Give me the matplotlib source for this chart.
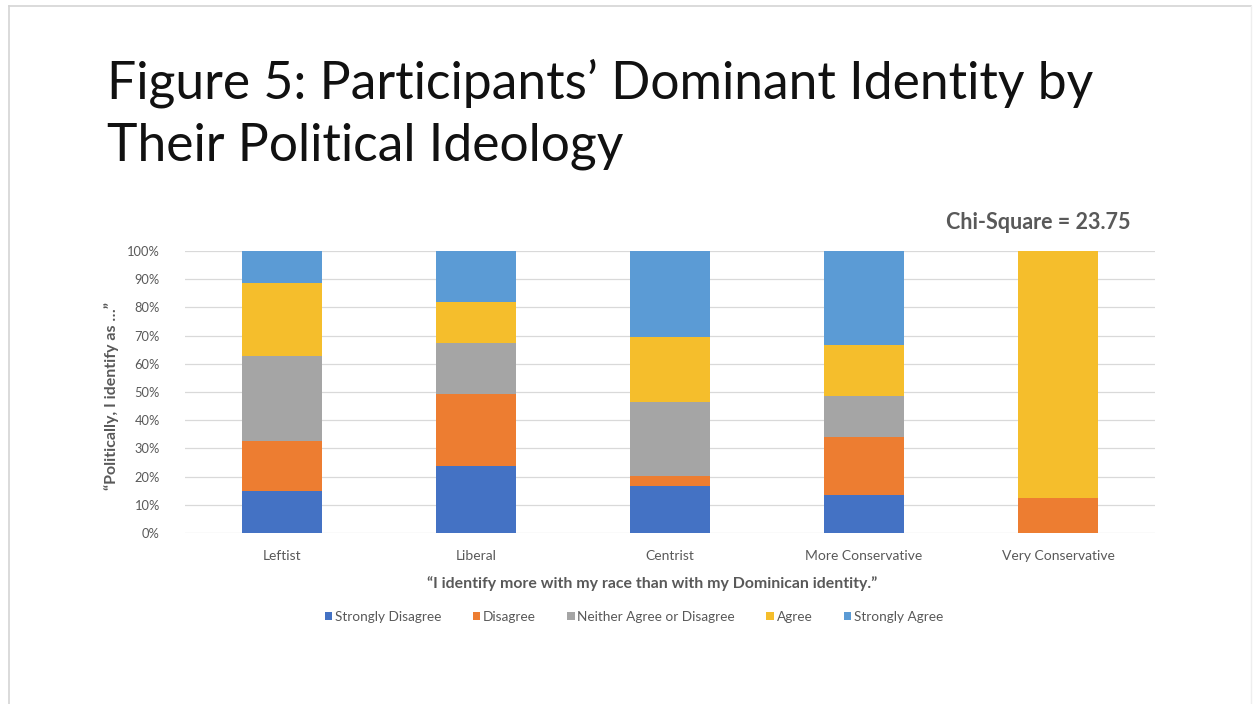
import matplotlib
matplotlib.use("Agg")
import matplotlib.pyplot as plt
from matplotlib.lines import Line2D
from matplotlib.patches import Patch
import numpy as np

# Data: share of responses (%) per political ideology group
categories = ["Leftist", "Liberal", "Centrist", "More Conservative", "Very Conservative"]
responses = ["Strongly Disagree", "Disagree", "Neither Agree or Disagree", "Agree", "Strongly Agree"]
strongly_disagree = [14.8, 23.8, 16.5, 13.5, 0.0]
disagree = [17.9, 25.6, 3.8, 20.7, 12.5]
neither = [29.9, 17.9, 26.3, 14.4, 0.0]
agree = [25.9, 14.5, 22.8, 18.1, 87.5]
strongly_agree = [11.5, 18.2, 30.6, 33.3, 0.0]
y_ticks = [0, 10, 20, 30, 40, 50, 60, 70, 80, 90, 100]
y_tick_labels = [f"{t}%" for t in y_ticks]

colors = ["#4472C4", "#ED7D31", "#A5A5A5", "#F5BE2C", "#5B9BD5"]
text_gray = "#595959"
FONT = "Lato"

W, H = 1253, 704
fig = plt.figure(figsize=(W / 100, H / 100), dpi=100)
fig.patch.set_facecolor("white")


def fx(px):
    return px / W


def fy(py):
    return 1 - py / H


# slide frame
fig.add_artist(Line2D([fx(9), fx(9)], [fy(6), 0], color="#D4D4D4", lw=1.2))
fig.add_artist(Line2D([fx(9), fx(1251)], [fy(6), fy(6)], color="#D4D4D4", lw=1.2))
fig.add_artist(Line2D([fx(1251), fx(1251)], [fy(6), 0], color="#EEEEEE", lw=1.0))

# title, fitted to its line width
title_lines = ["Figure 5: Participants\u2019 Dominant Identity by", "Their Political Ideology"]
title_base = [99, 160]
renderer = fig.canvas.get_renderer()
t1 = fig.text(fx(107), fy(title_base[0]), title_lines[0], fontsize=37, family=FONT,
              color="#111111", va="baseline", ha="left")
w = t1.get_window_extent(renderer).width
size = 37 * 988 / w
t1.set_fontsize(size)
fig.text(fx(107), fy(title_base[1]), title_lines[1], fontsize=size, family=FONT,
         color="#111111", va="baseline", ha="left")

# plot area
left, right, top, bottom = 185, 1155, 251, 533
ax = fig.add_axes([fx(left), fy(bottom), (right - left) / W, (bottom - top) / H])
x = np.arange(len(categories))
series = [strongly_disagree, disagree, neither, agree, strongly_agree]
base = np.zeros(len(categories))
for vals, col, name in zip(series, colors, responses):
    vals = np.array(vals)
    ax.bar(x, vals, bottom=base, width=0.41, color=col, label=name, zorder=3)
    base += vals

ax.set_xlim(-0.5, len(categories) - 0.5)
ax.set_ylim(0, 100)
ax.set_yticks(y_ticks)
ax.set_yticklabels(y_tick_labels)
ax.set_xticks(x)
ax.set_xticklabels(categories)
ax.yaxis.grid(True, color="#D9D9D9", lw=0.9, zorder=0)
ax.set_axisbelow(True)
for s in ax.spines.values():
    s.set_visible(False)
ax.tick_params(axis="both", length=0, labelcolor=text_gray)
ax.tick_params(axis="y", pad=18, labelsize=9.3)
ax.tick_params(axis="x", pad=12, labelsize=10)
for lab in ax.get_xticklabels() + ax.get_yticklabels():
    lab.set_family(FONT)

# axis titles
fig.text(fx(652), fy(584), "\u201cI identify more with my race than with my Dominican identity.\u201d",
         fontsize=11.4, fontweight="bold", family=FONT, color=text_gray, ha="center", va="center")
fig.text(fx(112), fy(396), "\u201cPolitically, I identify as \u2026\u201d", rotation=90,
         fontsize=11.5, fontweight="bold", family=FONT, color=text_gray, ha="center", va="center")

# statistic annotation
fig.text(fx(1131), fy(222), "Chi-Square = 23.75", fontsize=15.5, fontweight="bold", family=FONT,
         color=text_gray, ha="right", va="center")

# legend
handles = [Patch(facecolor=c, edgecolor="none", label=n) for c, n in zip(colors, responses)]
leg = fig.legend(handles=handles, loc="center", bbox_to_anchor=(fx(634), fy(617)), ncol=5,
                 frameon=False, handlelength=0.55, handleheight=0.55, handletextpad=0.2,
                 columnspacing=2.3, prop={"family": FONT, "size": 9.8})
for t in leg.get_texts():
    t.set_color(text_gray)

fig.savefig("out.png", dpi=100, facecolor="white")
